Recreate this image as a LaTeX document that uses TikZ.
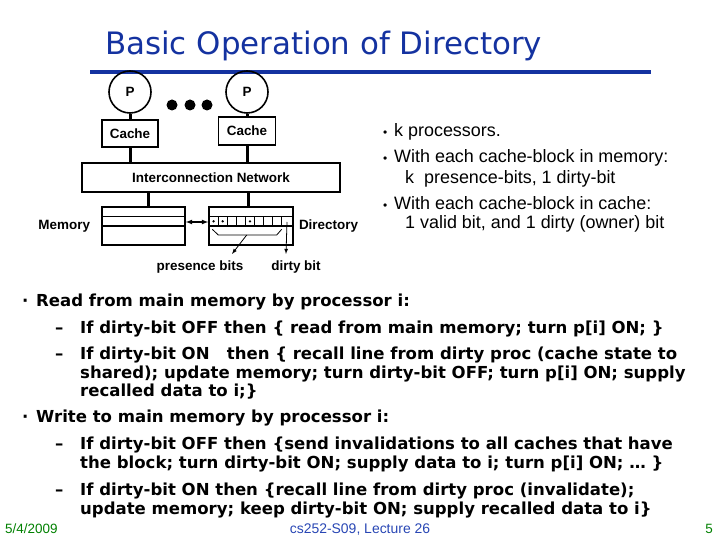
\documentclass[tikz,border=0pt]{standalone}
\usepackage{fontspec}
\setmainfont{Liberation Sans}
\newfontfamily\comic{DejaVu Sans}
\usetikzlibrary{positioning}
\definecolor{titleblue}{RGB}{20,50,160}
\definecolor{footgreen}{RGB}{0,128,0}
\definecolor{footblue}{RGB}{40,70,180}

\tikzset{
  unit/.style={draw, line width=1.6bp, font=\fontsize{13.5}{15}\selectfont\bfseries},
  proc/.style={unit, circle, minimum size=42bp, inner sep=0pt},
  box/.style={unit, rectangle, inner sep=0pt},
  link/.style={line width=3bp},
  lbl/.style={font=\fontsize{13.5}{15}\selectfont\bfseries, inner sep=0pt},
  side/.style={font=\fontsize{18}{21}\selectfont, anchor=base west, inner sep=0pt},
  body/.style={font=\comic\fontsize{16.6}{19}\selectfont\bfseries, anchor=base west, inner sep=0pt},
}

\begin{document}
\begin{tikzpicture}[x=1bp, y=-1bp, >=latex]
    \path[use as bounding box] (0,0) rectangle (720,540);
    % Title
    \node[font=\comic\fontsize{31}{34}\selectfont, text=titleblue, anchor=base west, inner sep=0pt]
        (title) at (105,55) {Basic Operation of Directory};
    \draw[titleblue, line width=4bp] (90,72) -- (651,72);

    % Processors, caches, network
    \node[proc] (p1) at (130,92) {P};
    \node[proc] (p2) at (247,92) {P};
    \foreach \x in {172,190,207} {
        \fill (\x,105) circle (5.5);
    }
    \node[box, minimum width=56bp, minimum height=27bp] (c1) at (130,133.5) {Cache};
    \node[box, minimum width=57bp, minimum height=28bp] (c2) at (247,131) {Cache};
    \node[box, minimum width=258bp, minimum height=29bp] (net) at (211,177.5) {Interconnection Network};
    \node[box, minimum width=83bp, minimum height=38bp] (mem) at (143.5,226) {};
    \node[box, minimum width=84bp, minimum height=38bp] (dir) at (251,226) {};
    \draw[link] (p1) -- (c1);
    \draw[link] (p2) -- (c2);
    \draw[link] (c1) -- (c1 |- net.north);
    \draw[link] (c2) -- (c2 |- net.north);
    \draw[link] ([xshift=4.5bp]mem.north) -- ([xshift=4.5bp]mem.north |- net.south);
    \draw[link] ([xshift=-3bp]dir.north) -- ([xshift=-3bp]dir.north |- net.south);

    % Memory rows and directory bits
    \draw[line width=1.1bp] (mem.west |- 0,216.7) -- (mem.east |- 0,216.7);
    \draw[line width=1.1bp] (mem.west |- 0,226) -- (mem.east |- 0,226);
    \draw[line width=1.1bp] (dir.west |- 0,216.7) -- (dir.east |- 0,216.7);
    \draw[line width=1.1bp] (dir.west |- 0,226) -- (dir.east |- 0,226);
    \foreach \i in {1,...,8} {
        \draw[line width=0.8bp] ({209+\i*9.1},216.7) -- ++(0,9.3);
    }
    \foreach \i in {0,1,4} {
        \fill ({209+\i*9.1+4.55},221.35) circle (1.3);
    }
    \draw[<->, line width=1.2bp] (mem.east |- 0,222) -- (dir.west |- 0,222);
    \draw[line width=0.8bp] (212.3,229.3) -- (218.3,235) -- (276.7,235) -- (281.7,229.3);

    % Labels
    \node[lbl, left=11bp of mem] (memlbl) {Memory};
    \node[lbl, right=5bp of dir] (dirlbl) {Directory};
    \node[lbl] (pbits) at (200,267) {presence bits};
    \node[lbl] (dbit) at (296,267) {dirty bit};
    \coordinate (brk) at (246.7,235);
    \coordinate (ptip) at (232,254);
    \coordinate (dcell) at (287,222);
    \coordinate (dtip) at (286,254);
    \draw[->, line width=0.8bp] (brk) -- (ptip);
    \draw[->, line width=0.8bp] (dcell) -- (dtip);

    % Side notes
    \foreach \y in {137,163,210} {
        \node[side, font=\fontsize{12}{14}\selectfont] at (383,\y) {\textbullet};
    }
    \node[side] (kp) at (394,137) {k processors.};
    \node[side] (inmem) at (394,163) {With each cache-block in memory:};
    \node[side] (inmemb) at (405,184) {k\ \ presence-bits, 1 dirty-bit};
    \node[side] (incache) at (394,210) {With each cache-block in cache:};
    \node[side] (incacheb) at (405,229) {1 valid bit, and 1 dirty (owner) bit};

    % Protocol text
    \foreach \y in {306,422} {
        \node[body] at (22,\y) {\textperiodcentered};
    }
    \foreach \y in {333,359,449,495} {
        \node[body] at (55,\y) {\textendash};
    }
    \node[body] (rd) at (36,306) {Read from main memory by processor i:};
    \node[body] (rdoff) at (80,333) {If dirty-bit OFF then \{ read from main memory; turn p[i] ON; \}};
    \node[body] (rdon) at (80,359) {If dirty-bit ON\ \ \ then \{ recall line from dirty proc (cache state to};
    \node[body] (rdonb) at (80,378) {shared); update memory; turn dirty-bit OFF; turn p[i] ON; supply};
    \node[body] (rdonc) at (80,396) {recalled data to i;\}};
    \node[body] (wr) at (36,422) {Write to main memory by processor i:};
    \node[body] (wroff) at (80,449) {If dirty-bit OFF then \{send invalidations to all caches that have};
    \node[body] (wroffb) at (80,468) {the block; turn dirty-bit ON; supply data to i; turn p[i] ON; \ldots\ \}};
    \node[body] (wron) at (80,495) {If dirty-bit ON then \{recall line from dirty proc (invalidate);};
    \node[body] (wronb) at (80,514) {update memory; keep dirty-bit ON; supply recalled data to i\}};

    % Footer
    \node[anchor=base west, inner sep=0pt, text=footgreen, font=\fontsize{13.5}{15}\selectfont] (date) at (5,533) {5/4/2009};
    \node[anchor=base, inner sep=0pt, text=footblue, font=\fontsize{14}{16}\selectfont] (lect) at (360,533) {cs252-S09, Lecture 26};
    \node[anchor=base east, inner sep=0pt, text=footgreen, font=\fontsize{13.5}{15}\selectfont] (num) at (713,533) {5};
\end{tikzpicture}
\end{document}
